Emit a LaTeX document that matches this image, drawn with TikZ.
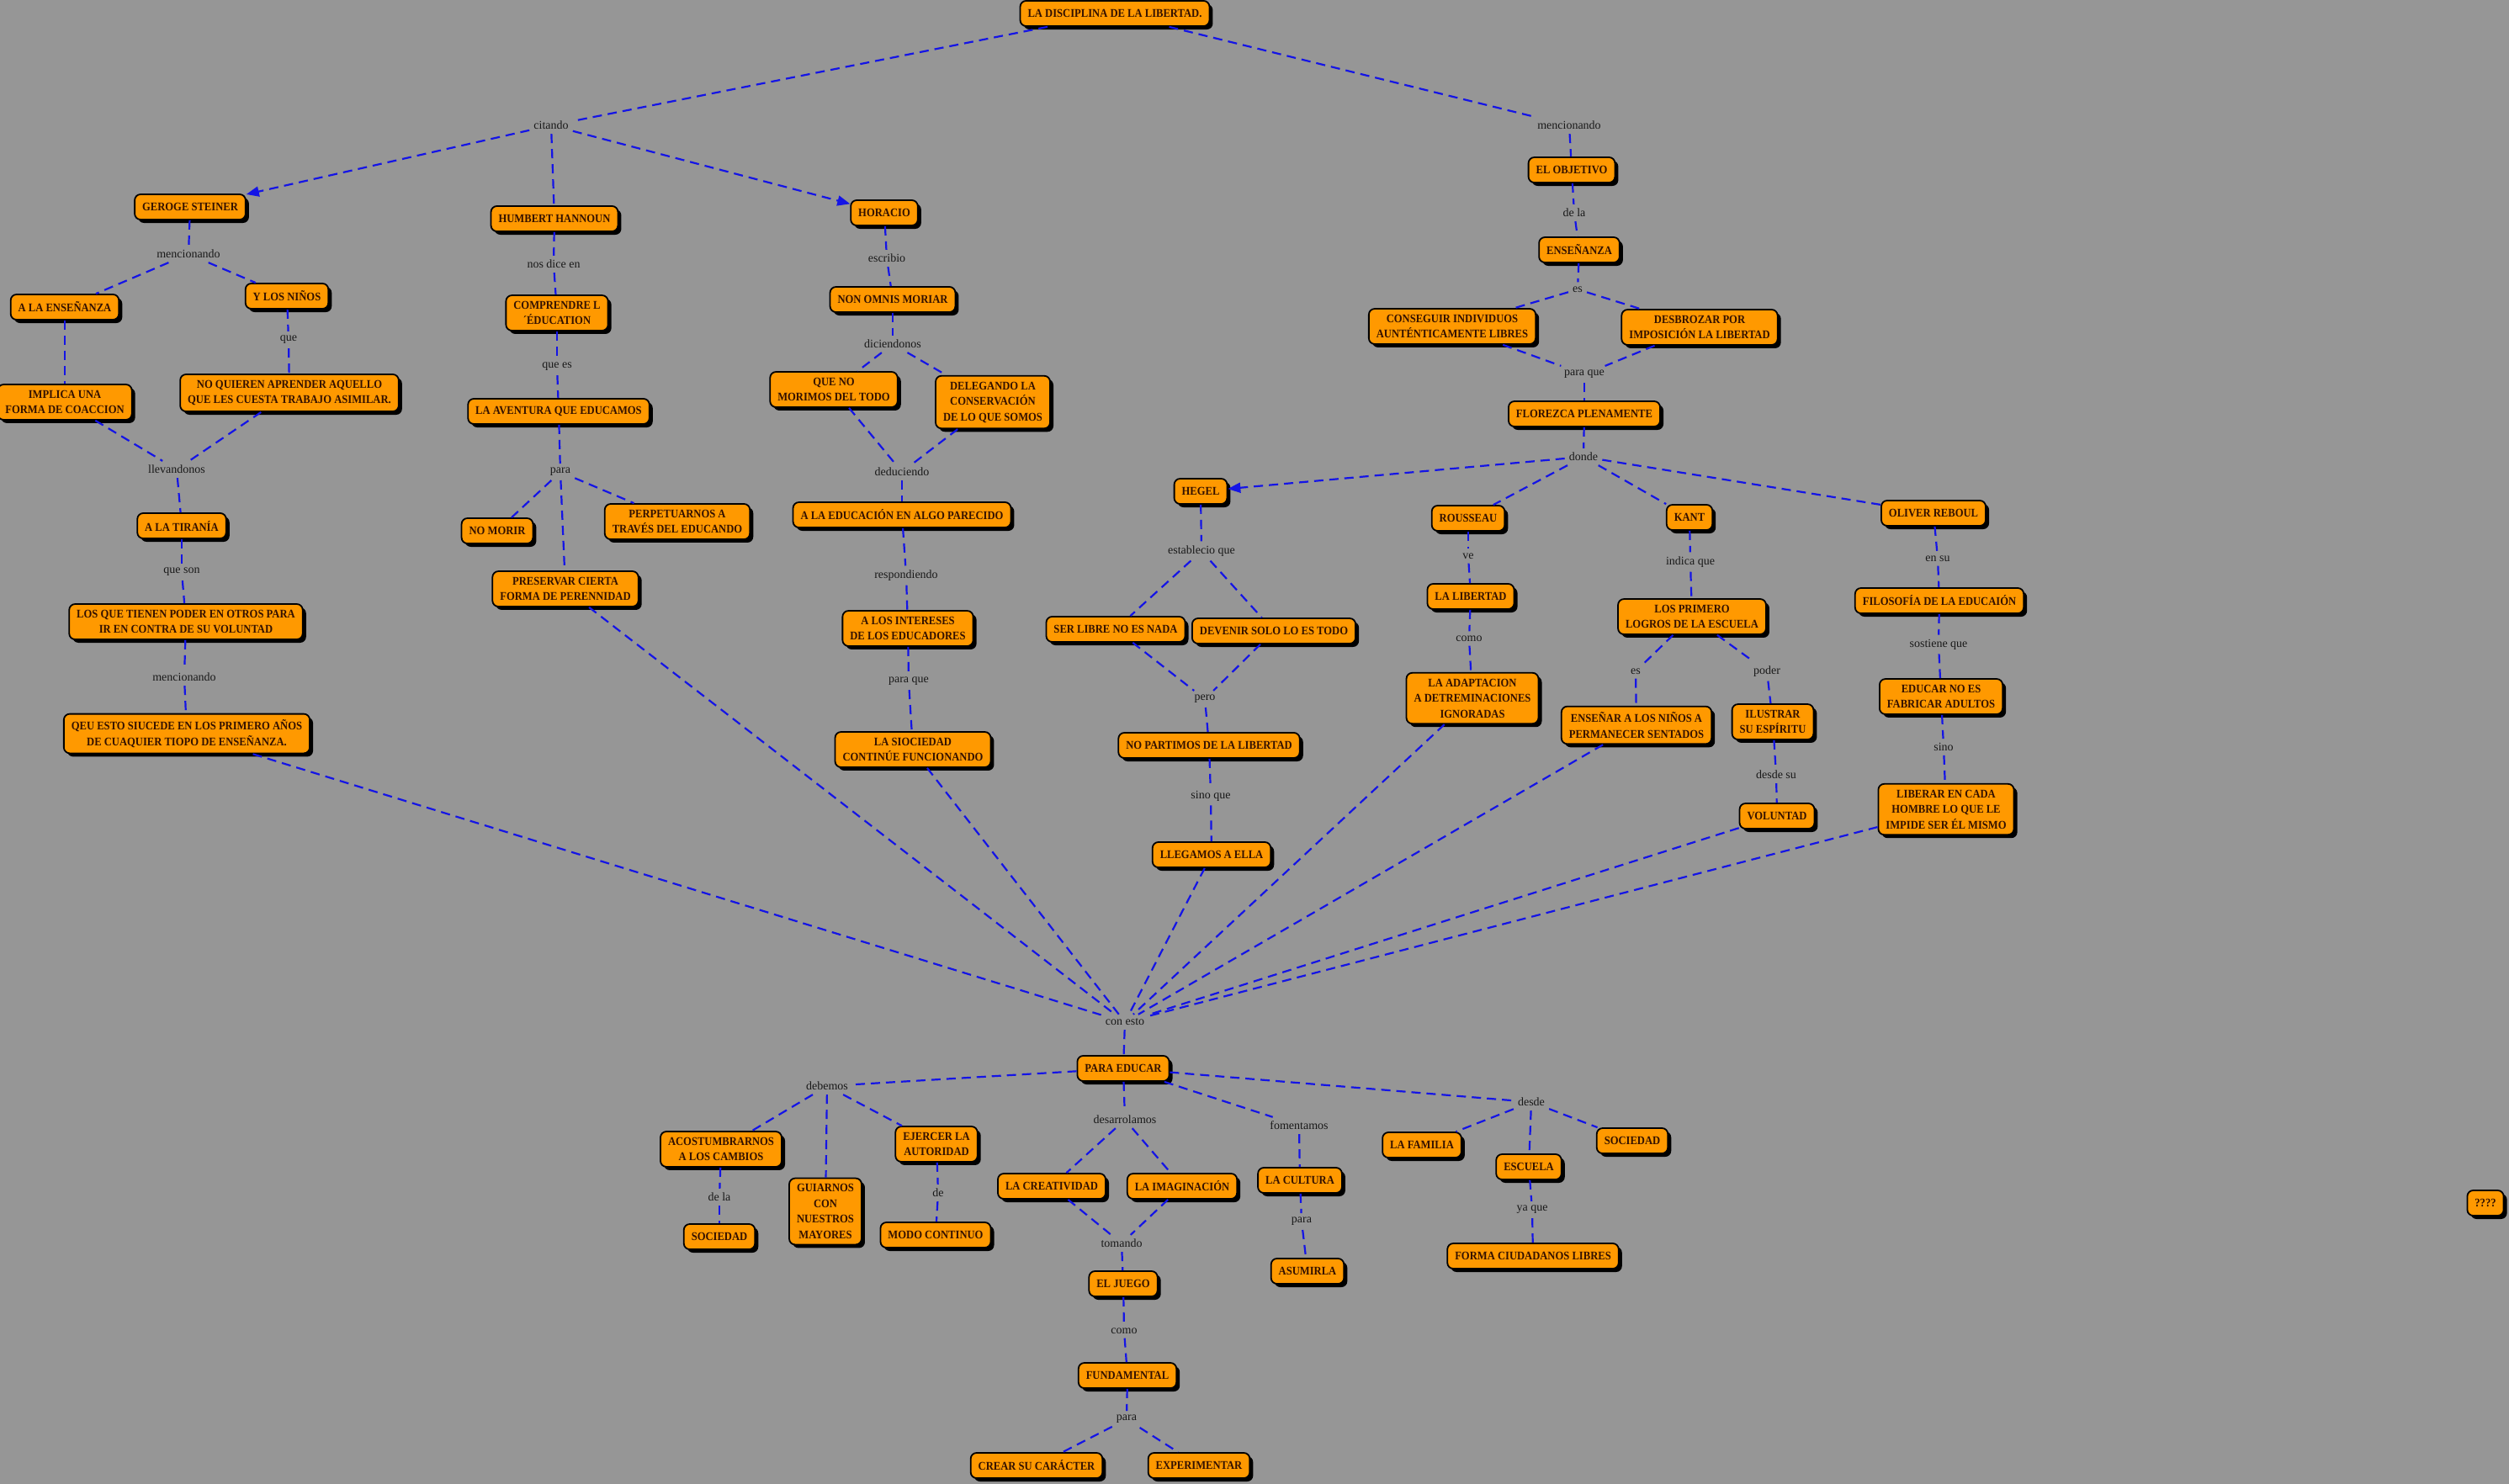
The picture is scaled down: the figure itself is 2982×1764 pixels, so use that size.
\documentclass[tikz,border=0pt]{standalone}
\usepackage{fontspec}
\setmainfont{Liberation Serif}
\newfontfamily\boxfont[FakeStretch=0.9]{Liberation Serif}
\usetikzlibrary{arrows.meta,shadows}
\definecolor{bg}{RGB}{150,150,150}
\definecolor{boxfill}{RGB}{255,153,0}
\definecolor{boxtext}{RGB}{51,17,0}
\definecolor{linkblue}{RGB}{20,20,230}
\definecolor{lbltext}{RGB}{25,25,25}
\begin{document}
\begin{tikzpicture}[x=1pt,y=-1pt,
  concept/.style={draw=black, line width=1.8pt, fill=boxfill, rounded corners=7pt,
    align=center, font=\boxfont\bfseries\fontsize{14}{18.5}\selectfont, text=boxtext,
    inner xsep=9pt, inner ysep=7pt, minimum height=30pt,
    drop shadow={shadow xshift=4pt, shadow yshift=-4pt, fill=black, opacity=1, draw=none}},
  lbl/.style={font=\fontsize{14}{16}\selectfont, text=lbltext, inner sep=5pt},
  link/.style={draw=linkblue, line width=2.2pt, dash pattern=on 11pt off 7pt},
  arr/.style={link, -{Triangle[length=15pt,width=12pt]}}
]
\fill[bg] (0,0) rectangle (2982,1764);
\useasboundingbox (0,0) rectangle (2982,1764);

% concepts
\node[concept] (root) at (1325,16) {LA DISCIPLINA DE LA LIBERTAD.};
\node[concept] (steiner) at (226,246) {GEROGE STEINER};
\node[concept] (hannoun) at (659,260) {HUMBERT HANNOUN};
\node[concept] (horacio) at (1051,253) {HORACIO};
\node[concept] (alaens) at (77,365) {A LA ENSEÑANZA};
\node[concept] (ninos) at (341,352) {Y LOS NIÑOS};
\node[concept] (comprendre) at (662,372) {COMPRENDRE L\\´ÉDUCATION};
\node[concept] (implica) at (77,478) {IMPLICA UNA\\FORMA DE COACCION};
\node[concept] (noquieren) at (344,467) {NO QUIEREN APRENDER AQUELLO\\QUE LES CUESTA TRABAJO ASIMILAR.};
\node[concept] (aventura) at (664,489) {LA AVENTURA QUE EDUCAMOS};
\node[concept] (nonomnis) at (1061,356) {NON OMNIS MORIAR};
\node[concept] (queno) at (991,463) {QUE NO\\MORIMOS DEL TODO};
\node[concept] (delegando) at (1180,478) {DELEGANDO LA\\CONSERVACIÓN\\DE LO QUE SOMOS};
\node[concept] (tirania) at (216,625) {A LA TIRANÍA};
\node[concept] (nomorir) at (591,631) {NO MORIR};
\node[concept] (perpetuarnos) at (805,620) {PERPETUARNOS A\\TRAVÉS DEL EDUCANDO};
\node[concept] (preservar) at (672,700) {PRESERVAR CIERTA\\FORMA DE PERENNIDAD};
\node[concept] (alaeduc) at (1072,612) {A LA EDUCACIÓN EN ALGO PARECIDO};
\node[concept] (losque) at (221,739) {LOS QUE TIENEN PODER EN OTROS PARA\\IR EN CONTRA DE SU VOLUNTAD};
\node[concept] (qeu) at (222,872) {QEU ESTO SIUCEDE EN LOS PRIMERO AÑOS\\DE CUAQUIER TIOPO DE ENSEÑANZA.};
\node[concept] (intereses) at (1079,747) {A LOS INTERESES\\DE LOS EDUCADORES};
\node[concept] (sociedadcont) at (1085,891) {LA SIOCIEDAD\\CONTINÚE FUNCIONANDO};
\node[concept] (objetivo) at (1868,202) {EL OBJETIVO};
\node[concept] (ensenanza) at (1877,297) {ENSEÑANZA};
\node[concept] (conseguir) at (1726,388) {CONSEGUIR INDIVIDUOS\\AUNTÉNTICAMENTE LIBRES};
\node[concept] (desbrozar) at (2020,389) {DESBROZAR POR\\IMPOSICIÓN LA LIBERTAD};
\node[concept] (florezca) at (1883,492) {FLOREZCA PLENAMENTE};
\node[concept] (hegel) at (1427,584) {HEGEL};
\node[concept] (rousseau) at (1745,616) {ROUSSEAU};
\node[concept] (kant) at (2008,615) {KANT};
\node[concept] (oliver) at (2298,610) {OLIVER REBOUL};
\node[concept] (serlibre) at (1326,748) {SER LIBRE NO ES NADA};
\node[concept] (devenir) at (1514,750) {DEVENIR SOLO LO ES TODO};
\node[concept] (nopartimos) at (1437,886) {NO PARTIMOS DE LA LIBERTAD};
\node[concept] (llegamos) at (1440,1016) {LLEGAMOS A ELLA};
\node[concept] (lalibertad) at (1748,709) {LA LIBERTAD};
\node[concept] (adaptacion) at (1750,830) {LA ADAPTACION\\A DETREMINACIONES\\IGNORADAS};
\node[concept] (losprimero) at (2011,733) {LOS PRIMERO\\LOGROS DE LA ESCUELA};
\node[concept] (ensenar) at (1945,862) {ENSEÑAR A LOS NIÑOS A\\PERMANECER SENTADOS};
\node[concept] (ilustrar) at (2107,858) {ILUSTRAR\\SU ESPÍRITU};
\node[concept] (voluntad) at (2112,970) {VOLUNTAD};
\node[concept] (filosofia) at (2305,714) {FILOSOFÍA DE LA EDUCAIÓN};
\node[concept] (educar) at (2307,828) {EDUCAR NO ES\\FABRICAR ADULTOS};
\node[concept] (liberar) at (2313,962) {LIBERAR EN CADA\\HOMBRE LO QUE LE\\IMPIDE SER ÉL MISMO};
\node[concept] (paraeducar) at (1335,1270) {PARA EDUCAR};
\node[concept] (acostumbrarnos) at (857,1366) {ACOSTUMBRARNOS\\A LOS CAMBIOS};
\node[concept] (sociedad1) at (855,1470) {SOCIEDAD};
\node[concept] (guiarnos) at (981,1440) {GUIARNOS\\CON\\NUESTROS\\MAYORES};
\node[concept] (ejercer) at (1113,1360) {EJERCER LA\\AUTORIDAD};
\node[concept] (modo) at (1112,1468) {MODO CONTINUO};
\node[concept] (creatividad) at (1250,1410) {LA CREATIVIDAD};
\node[concept] (imaginacion) at (1405,1410) {LA IMAGINACIÓN};
\node[concept] (juego) at (1335,1526) {EL JUEGO};
\node[concept] (fundamental) at (1340,1635) {FUNDAMENTAL};
\node[concept] (crear) at (1232,1742) {CREAR SU CARÁCTER};
\node[concept] (experimentar) at (1425,1742) {EXPERIMENTAR};
\node[concept] (cultura) at (1545,1403) {LA CULTURA};
\node[concept] (asumirla) at (1554,1511) {ASUMIRLA};
\node[concept] (familia) at (1690,1361) {LA FAMILIA};
\node[concept] (escuela) at (1817,1387) {ESCUELA};
\node[concept] (sociedad2) at (1940,1356) {SOCIEDAD};
\node[concept] (forma) at (1822,1493) {FORMA CIUDADANOS LIBRES};
\node[concept] (qqq) at (2954,1430) {????};

% linking phrases
\node[lbl] (citando) at (655,149) {citando};
\node[lbl] (menc2) at (1865,149) {mencionando};
\node[lbl] (menc1) at (224,302) {mencionando};
\node[lbl] (que1) at (343,404) {que};
\node[lbl] (llevandonos) at (210,558) {llevandonos};
\node[lbl] (queson) at (216,680) {que son};
\node[lbl] (menc3) at (219,805) {mencionando};
\node[lbl] (nosdice) at (658,314) {nos dice en};
\node[lbl] (quees) at (662,436) {que es};
\node[lbl] (para1) at (666,561) {para};
\node[lbl] (escribio) at (1054,307) {escribio};
\node[lbl] (diciendonos) at (1061,409) {diciendonos};
\node[lbl] (deduciendo) at (1072,561) {deduciendo};
\node[lbl] (respondiendo) at (1077,684) {respondiendo};
\node[lbl] (paraque1) at (1080,810) {para que};
\node[lbl] (dela1) at (1871,253) {de la};
\node[lbl] (es1) at (1875,344) {es};
\node[lbl] (paraque2) at (1883,445) {para que};
\node[lbl] (donde) at (1882,543) {donde};
\node[lbl] (establecio) at (1428,655) {establecio que};
\node[lbl] (pero) at (1432,831) {pero};
\node[lbl] (sinoque) at (1439,946) {sino que};
\node[lbl] (ve) at (1745,661) {ve};
\node[lbl] (como1) at (1746,759) {como};
\node[lbl] (indica) at (2009,668) {indica que};
\node[lbl] (es2) at (1944,798) {es};
\node[lbl] (poder) at (2100,798) {poder};
\node[lbl] (desdesu) at (2111,921) {desde su};
\node[lbl] (ensu) at (2303,664) {en su};
\node[lbl] (sostiene) at (2304,766) {sostiene que};
\node[lbl] (sino) at (2310,888) {sino};
\node[lbl] (conesto) at (1337,1215) {con esto};
\node[lbl] (debemos) at (983,1291) {debemos};
\node[lbl] (dela2) at (855,1423) {de la};
\node[lbl] (de) at (1115,1418) {de};
\node[lbl] (desarrolamos) at (1337,1331) {desarrolamos};
\node[lbl] (tomando) at (1333,1478) {tomando};
\node[lbl] (como2) at (1336,1582) {como};
\node[lbl] (para2) at (1339,1687) {para};
\node[lbl] (fomentamos) at (1544,1338) {fomentamos};
\node[lbl] (para3) at (1547,1452) {para};
\node[lbl] (desde) at (1820,1310) {desde};
\node[lbl] (yaque) at (1821,1438) {ya que};

% connectors with arrowheads
\draw[arr] (citando) -- (steiner);
\draw[arr] (citando) -- (horacio);
\draw[arr] (donde) -- (hegel);

% plain connectors
\foreach \a/\b in {root/citando, citando/hannoun, root/menc2, menc2/objetivo,
  steiner/menc1, menc1/alaens, menc1/ninos, alaens/implica, ninos/que1, que1/noquieren,
  implica/llevandonos, noquieren/llevandonos, llevandonos/tirania, tirania/queson,
  queson/losque, losque/menc3, menc3/qeu, qeu/conesto,
  hannoun/nosdice, nosdice/comprendre, comprendre/quees, quees/aventura,
  aventura/para1, para1/nomorir, para1/preservar, para1/perpetuarnos, preservar/conesto,
  horacio/escribio, escribio/nonomnis, nonomnis/diciendonos, diciendonos/queno,
  diciendonos/delegando, queno/deduciendo, delegando/deduciendo, deduciendo/alaeduc,
  alaeduc/respondiendo, respondiendo/intereses, intereses/paraque1, paraque1/sociedadcont,
  sociedadcont/conesto,
  objetivo/dela1, dela1/ensenanza, ensenanza/es1, es1/conseguir, es1/desbrozar,
  conseguir/paraque2, desbrozar/paraque2, paraque2/florezca, florezca/donde,
  donde/rousseau, donde/kant, donde/oliver,
  hegel/establecio, establecio/serlibre, establecio/devenir, serlibre/pero, devenir/pero,
  pero/nopartimos, nopartimos/sinoque, sinoque/llegamos, llegamos/conesto,
  rousseau/ve, ve/lalibertad, lalibertad/como1, como1/adaptacion, adaptacion/conesto,
  kant/indica, indica/losprimero, losprimero/es2, es2/ensenar, losprimero/poder,
  poder/ilustrar, ensenar/conesto, ilustrar/desdesu, desdesu/voluntad, voluntad/conesto,
  oliver/ensu, ensu/filosofia, filosofia/sostiene, sostiene/educar, educar/sino,
  sino/liberar, liberar/conesto,
  conesto/paraeducar, paraeducar/debemos, debemos/acostumbrarnos, debemos/guiarnos,
  debemos/ejercer, acostumbrarnos/dela2, dela2/sociedad1, ejercer/de, de/modo,
  paraeducar/desarrolamos, desarrolamos/creatividad, desarrolamos/imaginacion,
  creatividad/tomando, imaginacion/tomando, tomando/juego, juego/como2,
  como2/fundamental, fundamental/para2, para2/crear, para2/experimentar,
  paraeducar/fomentamos, fomentamos/cultura, cultura/para3, para3/asumirla,
  paraeducar/desde, desde/familia, desde/escuela, desde/sociedad2,
  escuela/yaque, yaque/forma}
  \draw[link] (\a) -- (\b);
\end{tikzpicture}
\end{document}
